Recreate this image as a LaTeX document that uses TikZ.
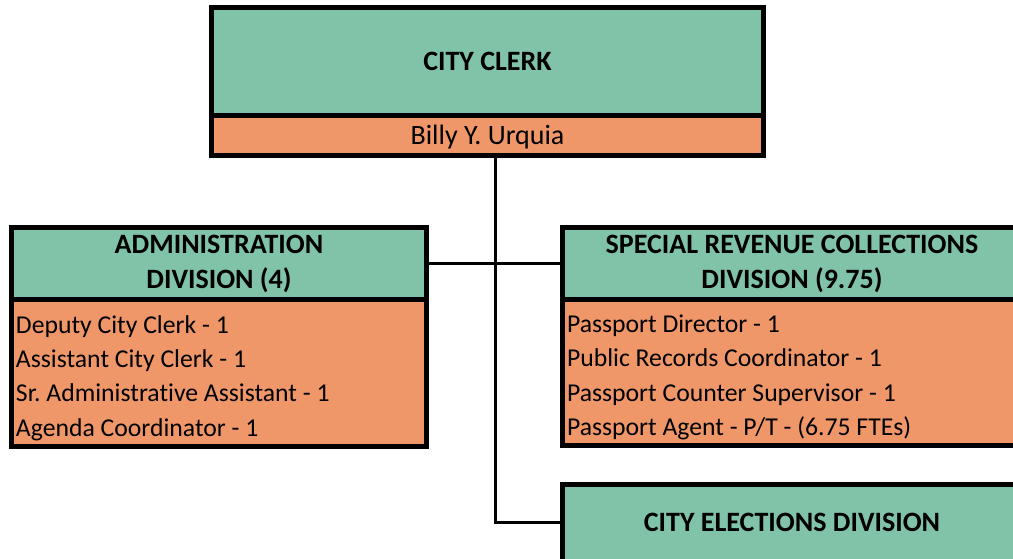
\documentclass[tikz,border=0pt]{standalone}
\usepackage{fontspec}
\setmainfont[Ligatures=NoCommon]{Carlito}
\usetikzlibrary{calc}
\definecolor{hdrgreen}{RGB}{128,195,168}
\definecolor{bodyorange}{RGB}{240,151,106}
\newcommand{\listdown}[2]{\raisebox{-5pt}[\height][\depth]{\parbox{#1}{\raggedright #2}}}
\begin{document}
\frenchspacing
\begin{tikzpicture}[x=1pt,y=-1pt,
  box/.style={draw=black,line width=5pt,inner sep=0pt,font=\fontsize{25.7}{34.3}\selectfont},
  hdr/.style={box,fill=hdrgreen,align=center,font=\bfseries\fontsize{28}{35}\selectfont},
  body/.style={box,fill=bodyorange},
  conn/.style={draw=black,line width=3pt}]
\useasboundingbox (0,0) rectangle (1013,558);
\clip (0,0) rectangle (1013,558);
% top
\node[hdr,minimum width=552pt,minimum height=108pt] (cc) at (487.5,61.5) {CITY CLERK};
\node[body,minimum width=552pt,minimum height=40pt,font=\fontsize{28}{34}\selectfont] (ccn) at (487.5,135.5)
  {\raisebox{-2pt}[\height][\depth]{Billy Y. Urquia}};
% left
\node[hdr,minimum width=415pt,minimum height=72pt] (adm) at (219,263.5) {ADMINISTRATION\\DIVISION (4)};
\node[body,minimum width=415pt,minimum height=147pt,inner xsep=4.5pt] (admb) at (219,373)
  {\listdown{406pt}{Deputy City Clerk - 1\\Assistant City Clerk - 1\\Sr. Administrative Assistant - 1\\Agenda Coordinator - 1}};
% right
\node[hdr,minimum width=459pt,minimum height=72pt] (src) at (792,263.5) {SPECIAL REVENUE COLLECTIONS\\DIVISION (9.75)};
\node[body,minimum width=459pt,minimum height=146pt,inner xsep=4.5pt] (srcb) at (792,372.5)
  {\listdown{450pt}{Passport Director - 1\\Public Records Coordinator - 1\\Passport Counter Supervisor - 1\\Passport Agent - P/T - (6.75 FTEs)}};
% bottom
\node[hdr,minimum width=459pt,minimum height=76.5pt] (ced) at (792,522.75) {CITY ELECTIONS DIVISION};
% connectors
\coordinate (j) at (495,263.5);
\draw[conn] (adm.east) -- (src.west);
\draw[conn] (ccn.south -| j) |- (ced.west);
\end{tikzpicture}
\end{document}
